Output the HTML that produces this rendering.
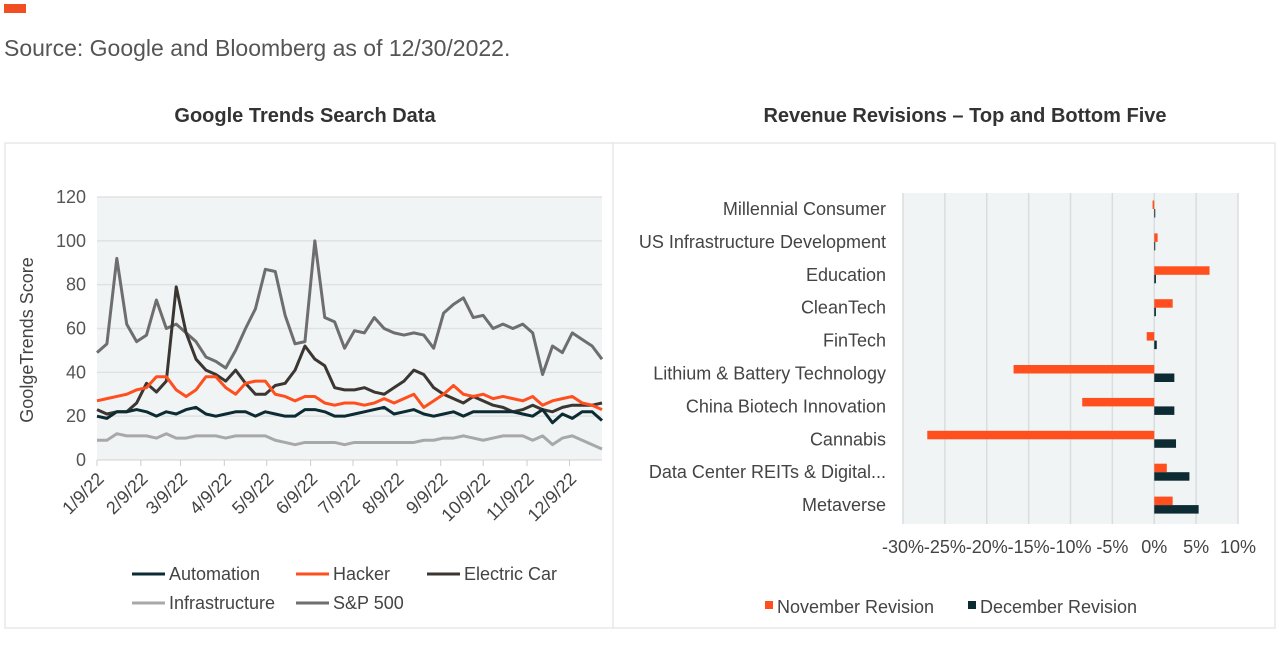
<!DOCTYPE html>
<html><head><meta charset="utf-8"><style>
body{margin:0;background:#fff;width:1280px;height:665px;overflow:hidden;font-family:"Liberation Sans",sans-serif;}
svg text{font-family:"Liberation Sans",sans-serif;}
</style></head><body>
<svg id="s" width="1280" height="665" xmlns="http://www.w3.org/2000/svg">
<rect x="4" y="4" width="22" height="9" fill="#f04e23"/>
<text x="4" y="56" font-size="23" fill="#555">Source: Google and Bloomberg as of 12/30/2022.</text>
<text x="305" y="122" font-size="20" font-weight="bold" fill="#333" text-anchor="middle">Google Trends Search Data</text>
<text x="965" y="122" font-size="20" font-weight="bold" fill="#333" text-anchor="middle">Revenue Revisions – Top and Bottom Five</text>
<rect x="5" y="143" width="608" height="485" fill="none" stroke="#ddd"/>
<rect x="613" y="143" width="662" height="485" fill="none" stroke="#ddd"/>
<g id="L"></g><g id="R"></g>
</svg>
<script>
const NS="http://www.w3.org/2000/svg";
function mk(p,t,a){const e=document.createElementNS(NS,t);for(const k in a)e.setAttribute(k,a[k]);p.appendChild(e);return e;}
// ---- Left chart data ----
const yTicks=[0,20,40,60,80,100,120];
const monthTicks=["1/9/22","2/9/22","3/9/22","4/9/22","5/9/22","6/9/22","7/9/22","8/9/22","9/9/22","10/9/22","11/9/22","12/9/22"];
const automation=[20,19,22,22,23,22,20,22,21,23,24,21,20,21,22,22,20,22,21,20,20,23,23,22,20,20,21,22,23,24,21,22,23,21,20,21,22,20,22,22,22,22,22,21,20,23,17,21,19,22,22,18];
const hacker=[27,28,29,30,32,33,38,38,32,29,32,38,38,33,30,35,36,36,30,29,27,29,29,26,25,26,26,25,26,28,26,28,30,24,27,30,34,30,29,30,28,29,28,27,29,25,27,28,29,26,25,23];
const electricCar=[23,21,22,22,26,35,31,36,79,58,46,41,39,36,41,35,30,30,34,35,41,52,46,43,33,32,32,33,31,30,33,36,41,39,33,30,28,26,29,27,25,24,22,23,25,23,22,24,25,25,25,26];
const infrastructure=[9,9,12,11,11,11,10,12,10,10,11,11,11,10,11,11,11,11,9,8,7,8,8,8,8,7,8,8,8,8,8,8,8,9,9,10,10,11,10,9,10,11,11,11,9,11,7,10,11,9,7,5];
const sp500=[49,53,92,62,54,57,73,60,62,58,54,47,45,42,50,60,69,87,86,66,53,54,100,65,63,51,59,58,65,60,58,57,58,57,51,67,71,74,65,66,60,62,60,62,58,39,52,49,58,55,52,46];
const seriesNames=["Automation","Hacker","Electric Car","Infrastructure","S&P 500"];
const seriesColors=["#0d2b33","#ff4f1f","#3b3632","#a8a8a8","#6e6e6e"];
const L=document.getElementById("L");
const px0=97,px1=602,py0=460,py1=197;
const start=new Date(2022,0,9);
const nW=automation.length;
const xs=i=>px0+i*(px1-px0)/(nW-1);
const xd=d=>px0+((d-start)/(7*864e5))*(px1-px0)/(nW-1);
const ys=v=>py0-(v/120)*(py0-py1);
const bg=mk(L,"rect",{x:px0,y:py1,width:px1-px0,height:py0-py1,fill:"#f0f4f5"});


yTicks.forEach(v=>{
 if(v>0){const g=mk(L,"line",{x1:px0,x2:px1,y1:ys(v),y2:ys(v),stroke:"#dfe2e4","stroke-width":1.5});
 
 }
 const t=mk(L,"text",{x:86,y:ys(v)+6,"font-size":18,fill:"#555","text-anchor":"end"});t.textContent=v;
 
 
});
mk(L,"line",{x1:px0,x2:px1,y1:py0,y2:py0,stroke:"#d0d0d0"});
monthTicks.forEach(s=>{
 const p=s.split("/");const d=new Date(2000+ +p[2],+p[0]-1,+p[1]);const x=xd(d);
 mk(L,"line",{x1:x,x2:x,y1:py0,y2:py0+6,stroke:"#ccc"});
 const t=mk(L,"text",{x:x+8,y:py0+20,"font-size":18,fill:"#444","text-anchor":"end",transform:`rotate(-45 ${x+8} ${py0+20})`});t.textContent=s;
 
 
});
const yt=mk(L,"text",{x:33,y:340,"font-size":18,fill:"#444","text-anchor":"middle",transform:"rotate(-90 33 340)"});yt.textContent="GoolgeTrends Score";


const order=[4,3,2,1,0];
const allS=[automation,hacker,electricCar,infrastructure,sp500];
order.forEach(k=>{
 const pl=mk(L,"polyline",{points:allS[k].map((v,i)=>xs(i)+","+ys(v)).join(" "),fill:"none",stroke:seriesColors[k],"stroke-width":3,"stroke-linejoin":"round"});
 
 
});
const legPos=[[132,574],[296,574],[427,574],[132,603],[296,603]];
seriesNames.forEach((n,k)=>{
 const [x,y]=legPos[k];
 const g=mk(L,"g",{});
 
 
 mk(g,"line",{x1:x,x2:x+33,y1:y,y2:y,stroke:seriesColors[k],"stroke-width":3});
 const t=mk(g,"text",{x:x+37,y:y+6,"font-size":18,fill:"#444"});t.textContent=n;
});
// ---- Right chart data ----
const categories=["Millennial Consumer","US Infrastructure Development","Education","CleanTech","FinTech","Lithium & Battery Technology","China Biotech Innovation","Cannabis","Data Center REITs & Digital...","Metaverse"];
const novRev=[-0.2,0.4,6.6,2.2,-0.9,-16.8,-8.6,-27.1,1.5,2.2];
const decRev=[0.05,0.05,0.2,0.2,0.3,2.4,2.4,2.6,4.2,5.3];
const xTicks=[-30,-25,-20,-15,-10,-5,0,5,10];
const R=document.getElementById("R");
const rx0=903,rx1=1238,ry0=193,ry1=524;
const xr=v=>rx0+(v+30)/40*(rx1-rx0);
const yc=i=>209+i*32.9;
const rbg=mk(R,"rect",{x:rx0,y:ry0,width:rx1-rx0,height:ry1-ry0,fill:"#f0f4f5"});


xTicks.forEach(v=>{
 const g=mk(R,"line",{x1:xr(v),x2:xr(v),y1:ry0,y2:ry1,stroke:"#dadddf","stroke-width":1.5});
 
 
 const t=mk(R,"text",{x:xr(v),y:553,"font-size":18,fill:"#444","text-anchor":"middle"});t.textContent=v+"%";
 
 
});
categories.forEach((c,i)=>{
 const t=mk(R,"text",{x:886,y:yc(i)+6,"font-size":18,fill:"#444","text-anchor":"end"});t.textContent=c;
 
 
 const a=novRev[i],b=decRev[i];
 const r1=mk(R,"rect",{x:Math.min(xr(0),xr(a)),y:yc(i)-8.5,width:Math.max(1,Math.abs(xr(a)-xr(0))),height:8.5,fill:"#ff4f1f"});
 
 
 const r2=mk(R,"rect",{x:Math.min(xr(0),xr(b)),y:yc(i),width:Math.max(1,Math.abs(xr(b)-xr(0))),height:8.5,fill:"#0d2b33"});
 
 
});
[["November Revision","#ff4f1f",765],["December Revision","#0d2b33",968]].forEach(([n,c,x])=>{
 const g=mk(R,"g",{});
 
 
 mk(g,"rect",{x:x,y:601,width:8,height:8,fill:c});
 const t=mk(g,"text",{x:x+12,y:613,"font-size":18,fill:"#444"});t.textContent=n;
});
</script>
</body></html>
